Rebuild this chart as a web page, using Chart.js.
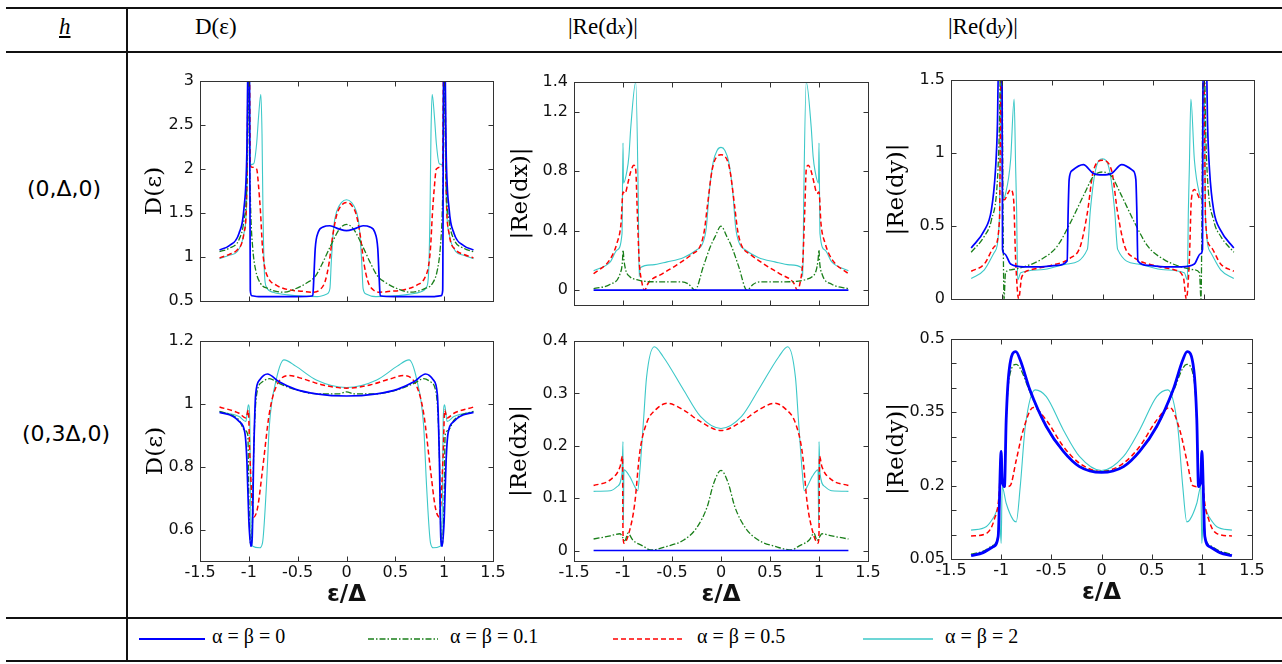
<!DOCTYPE html>
<html>
<head>
<meta charset="utf-8">
<script src="https://cdn.jsdelivr.net/npm/chart.js@4.4.1/dist/chart.umd.min.js"></script>
<style>
  body { margin: 0; background: #fff; }
  #page { position: relative; width: 1282px; height: 664px; overflow: hidden; background: #fff; }
  .hline { position: absolute; left: 6px; width: 1276px; height: 2px; background: #111; }
  .vline { position: absolute; left: 126px; top: 8px; width: 2px; height: 654px; background: #111; }
  .head { position: absolute; top: 14px; font-family: "Liberation Serif", serif; font-size: 23px; color: #000; }
  .row { position: absolute; font-family: "DejaVu Sans", sans-serif; font-size: 22px; color: #000; transform: translate(-50%, -50%); white-space: nowrap; }
  canvas { position: absolute; }
  .leg { position: absolute; top: 625px; font-family: "Liberation Serif", serif; font-size: 20px; color: #000; white-space: nowrap; }
  svg { position: absolute; top: 630px; }
</style>
</head>
<body>
<div id="page">
  <div class="hline" style="top:7px"></div>
  <div class="hline" style="top:51px"></div>
  <div class="hline" style="top:617px"></div>
  <div class="hline" style="top:660px"></div>
  <div class="vline"></div>

  <div class="head" style="left:59px"><i><u>h</u></i></div>
  <div class="head" style="left:195px">D(ε)</div>
  <div class="head" style="left:568px">|Re(d<i style="font-size:0.8em">x</i>)|</div>
  <div class="head" style="left:948px">|Re(d<i style="font-size:0.8em">y</i>)|</div>

  <div class="row" style="left:64px;top:188px">(0,Δ,0)</div>
  <div class="row" style="left:66px;top:433px">(0,3Δ,0)</div>

  <canvas id="c1"></canvas>
  <canvas id="c2"></canvas>
  <canvas id="c3"></canvas>
  <canvas id="c4"></canvas>
  <canvas id="c5"></canvas>
  <canvas id="c6"></canvas>

  <svg style="left:139px" width="66" height="18"><line x1="0" y1="9" x2="66" y2="9" stroke="#0000ff" stroke-width="2"/></svg>
  <div class="leg" style="left:212px">α = β = 0</div>
  <svg style="left:368px" width="70" height="18"><line x1="0" y1="9" x2="70" y2="9" stroke="#1a7f1a" stroke-width="1.5" stroke-dasharray="6 2 1.5 2"/></svg>
  <div class="leg" style="left:450px">α = β = 0.1</div>
  <svg style="left:613px" width="70" height="18"><line x1="0" y1="9" x2="70" y2="9" stroke="#ff0000" stroke-width="1.5" stroke-dasharray="5 3"/></svg>
  <div class="leg" style="left:697px">α = β = 0.5</div>
  <svg style="left:863px" width="70" height="18"><line x1="0" y1="9" x2="70" y2="9" stroke="#3cc8c8" stroke-width="1.5"/></svg>
  <div class="leg" style="left:945px">α = β = 2</div>
</div>

<script>
// legend names and line styles (blue, green, red, cyan)
const seriesNames = ['α = β = 0', 'α = β = 0.1', 'α = β = 0.5', 'α = β = 2'];
const colors = ['#0000ff', '#1a7f1a', '#ff0000', '#3cc8c8'];
const widths = [1.7, 1.3, 1.5, 1.1];
const dashes = [[], [6, 2, 1.5, 2], [5, 3], []];

const xTicks = [-1.5, -1, -0.5, 0, 0.5, 1, 1.5];

// ---- h = (0,Δ,0): D(ε)
const dosTopBlue = [[-1.3,1.08],[-1.2,1.13],[-1.1,1.27],[-1.05,1.55],[-1.02,2.2],[-1.005,3.5],[-0.995,3.5],[-0.985,0.62],[-0.97,0.56],[-0.9,0.55],[-0.5,0.55],[-0.345,0.56],[-0.335,0.75],[-0.32,1.1],[-0.29,1.28],[-0.24,1.34],[-0.17,1.355],[-0.08,1.32],[0,1.3],[0.08,1.32],[0.17,1.355],[0.24,1.34],[0.29,1.28],[0.32,1.1],[0.335,0.75],[0.345,0.56],[0.5,0.55],[0.9,0.55],[0.97,0.56],[0.985,0.62],[0.995,3.5],[1.005,3.5],[1.02,2.2],[1.05,1.55],[1.1,1.27],[1.2,1.13],[1.3,1.08]];
const dosTopGreen = [[-1.3,1.06],[-1.2,1.1],[-1.1,1.2],[-1.05,1.42],[-1.02,1.9],[-1.005,3.2],[-0.995,2.3],[-0.98,1.5],[-0.96,1.1],[-0.93,0.85],[-0.88,0.7],[-0.8,0.64],[-0.65,0.6],[-0.5,0.65],[-0.4,0.71],[-0.32,0.78],[-0.25,0.92],[-0.17,1.11],[-0.07,1.32],[0,1.37],[0.07,1.32],[0.17,1.11],[0.25,0.92],[0.32,0.78],[0.4,0.71],[0.5,0.65],[0.65,0.6],[0.8,0.64],[0.88,0.7],[0.93,0.85],[0.96,1.1],[0.98,1.5],[0.995,2.3],[1.005,3.2],[1.02,1.9],[1.05,1.42],[1.1,1.2],[1.2,1.1],[1.3,1.06]];
const dosTopRed = [[-1.3,0.99],[-1.2,1.03],[-1.12,1.08],[-1.05,1.27],[-1.02,1.8],[-1.005,3.3],[-0.995,3.3],[-0.985,2.05],[-0.97,2.02],[-0.92,2.0],[-0.9,1.8],[-0.88,1.5],[-0.86,1.1],[-0.84,0.9],[-0.8,0.76],[-0.72,0.68],[-0.6,0.63],[-0.45,0.61],[-0.34,0.6],[-0.27,0.63],[-0.22,0.72],[-0.18,0.92],[-0.14,1.25],[-0.1,1.48],[-0.05,1.59],[0,1.62],[0.05,1.59],[0.1,1.48],[0.14,1.25],[0.18,0.92],[0.22,0.72],[0.27,0.63],[0.34,0.6],[0.45,0.61],[0.6,0.63],[0.72,0.68],[0.8,0.76],[0.84,0.9],[0.86,1.1],[0.88,1.5],[0.9,1.8],[0.92,2.0],[0.97,2.02],[0.985,2.05],[0.995,3.3],[1.005,3.3],[1.02,1.8],[1.05,1.27],[1.12,1.08],[1.2,1.03],[1.3,0.99]];
const dosTopCyan = [[-1.3,0.98],[-1.2,1.02],[-1.12,1.06],[-1.05,1.27],[-1.02,1.72],[-1.005,3.3],[-0.995,3.3],[-0.985,2.05],[-0.95,2.06],[-0.92,2.29],[-0.9,2.6],[-0.877,2.85],[-0.865,2.4],[-0.855,1.5],[-0.84,0.81],[-0.82,0.66],[-0.75,0.6],[-0.6,0.57],[-0.45,0.555],[-0.3,0.55],[-0.2,0.58],[-0.17,0.64],[-0.155,0.96],[-0.13,1.35],[-0.1,1.52],[-0.05,1.62],[0,1.65],[0.05,1.62],[0.1,1.52],[0.13,1.35],[0.155,0.96],[0.17,0.64],[0.2,0.58],[0.3,0.55],[0.45,0.555],[0.6,0.57],[0.75,0.6],[0.82,0.66],[0.84,0.81],[0.855,1.5],[0.865,2.4],[0.877,2.85],[0.9,2.6],[0.92,2.29],[0.95,2.06],[0.985,2.05],[0.995,3.3],[1.005,3.3],[1.02,1.72],[1.05,1.27],[1.12,1.06],[1.2,1.02],[1.3,0.98]];

// ---- h = (0,Δ,0): |Re(dx)|
const dxTopBlue = [[-1.3,0],[1.3,0]];
const dxTopGreen = [[-1.3,0.01],[-1.13,0.04],[-1.03,0.11],[-1.005,0.2],[-1.0,0.27],[-0.99,0.2],[-0.97,0.13],[-0.93,0.09],[-0.86,0.07],[-0.79,0.06],[-0.62,0.056],[-0.4,0.056],[-0.33,0.04],[-0.265,0.0],[-0.18,0.16],[-0.11,0.29],[-0.06,0.36],[0,0.43],[0.06,0.36],[0.11,0.29],[0.18,0.16],[0.265,0.0],[0.33,0.04],[0.4,0.056],[0.62,0.056],[0.79,0.06],[0.86,0.07],[0.93,0.09],[0.97,0.13],[0.99,0.2],[1.0,0.27],[1.005,0.2],[1.03,0.11],[1.13,0.04],[1.3,0.01]];
const dxTopRed = [[-1.3,0.11],[-1.13,0.21],[-1.06,0.32],[-1.02,0.45],[-1.0,0.66],[-0.98,0.65],[-0.95,0.72],[-0.92,0.8],[-0.89,0.84],[-0.87,0.81],[-0.855,0.54],[-0.835,0.2],[-0.81,0.06],[-0.78,0.0],[-0.74,0.05],[-0.6,0.11],[-0.45,0.17],[-0.3,0.24],[-0.21,0.3],[-0.17,0.4],[-0.14,0.56],[-0.09,0.81],[-0.04,0.9],[0,0.91],[0.04,0.9],[0.09,0.81],[0.14,0.56],[0.17,0.4],[0.21,0.3],[0.3,0.24],[0.45,0.17],[0.6,0.11],[0.74,0.05],[0.78,0.0],[0.81,0.06],[0.835,0.2],[0.855,0.54],[0.87,0.81],[0.89,0.84],[0.92,0.8],[0.95,0.72],[0.98,0.65],[1.0,0.66],[1.02,0.45],[1.06,0.32],[1.13,0.21],[1.3,0.11]];
const dxTopCyan = [[-1.3,0.13],[-1.13,0.19],[-1.06,0.27],[-1.01,0.38],[-1.0,0.99],[-0.995,0.72],[-0.96,0.8],[-0.94,0.9],[-0.92,1.1],[-0.87,1.4],[-0.845,0.65],[-0.835,0.09],[-0.825,0.15],[-0.7,0.17],[-0.55,0.19],[-0.38,0.22],[-0.25,0.27],[-0.19,0.31],[-0.15,0.42],[-0.12,0.66],[-0.08,0.86],[-0.04,0.94],[0,0.96],[0.04,0.94],[0.08,0.86],[0.12,0.66],[0.15,0.42],[0.19,0.31],[0.25,0.27],[0.38,0.22],[0.55,0.19],[0.7,0.17],[0.825,0.15],[0.835,0.09],[0.845,0.65],[0.87,1.4],[0.92,1.1],[0.94,0.9],[0.96,0.8],[0.995,0.72],[1.0,0.99],[1.01,0.38],[1.06,0.27],[1.13,0.19],[1.3,0.13]];

// ---- h = (0,Δ,0): |Re(dy)|
const dyTopBlue = [[-1.3,0.35],[-1.17,0.47],[-1.1,0.61],[-1.06,0.88],[-1.04,1.2],[-1.03,1.6],[-0.995,1.6],[-0.99,0.34],[-0.97,0.31],[-0.91,0.24],[-0.78,0.22],[-0.61,0.22],[-0.45,0.23],[-0.35,0.26],[-0.34,0.6],[-0.33,0.82],[-0.3,0.88],[-0.19,0.92],[-0.09,0.86],[0,0.85],[0.09,0.86],[0.19,0.92],[0.3,0.88],[0.33,0.82],[0.34,0.6],[0.35,0.26],[0.45,0.23],[0.61,0.22],[0.78,0.22],[0.91,0.24],[0.97,0.31],[0.99,0.34],[0.995,1.6],[1.03,1.6],[1.04,1.2],[1.06,0.88],[1.1,0.61],[1.17,0.47],[1.3,0.35]];
const dyTopGreen = [[-1.3,0.32],[-1.17,0.43],[-1.1,0.54],[-1.04,0.82],[-1.02,1.2],[-1.01,1.6],[-0.995,1.6],[-0.985,0.6],[-0.975,0.0],[-0.96,0.18],[-0.91,0.2],[-0.78,0.22],[-0.61,0.27],[-0.45,0.36],[-0.32,0.52],[-0.18,0.72],[-0.09,0.84],[0,0.87],[0.09,0.84],[0.18,0.72],[0.32,0.52],[0.45,0.36],[0.61,0.27],[0.78,0.22],[0.91,0.2],[0.96,0.18],[0.975,0.0],[0.985,0.6],[0.995,1.6],[1.01,1.6],[1.02,1.2],[1.04,0.82],[1.1,0.54],[1.17,0.43],[1.3,0.32]];
const dyTopRed = [[-1.3,0.19],[-1.17,0.24],[-1.07,0.36],[-1.02,0.54],[-1.005,1.6],[-0.995,1.6],[-0.99,0.7],[-0.97,0.68],[-0.94,0.72],[-0.91,0.75],[-0.88,0.68],[-0.86,0.27],[-0.83,0.0],[-0.8,0.15],[-0.71,0.2],[-0.51,0.23],[-0.32,0.28],[-0.22,0.36],[-0.15,0.59],[-0.09,0.88],[0,0.95],[0.09,0.88],[0.15,0.59],[0.22,0.36],[0.32,0.28],[0.51,0.23],[0.71,0.2],[0.8,0.15],[0.83,0.0],[0.86,0.27],[0.88,0.68],[0.91,0.75],[0.94,0.72],[0.97,0.68],[0.99,0.7],[0.995,1.6],[1.005,1.6],[1.02,0.54],[1.07,0.36],[1.17,0.24],[1.3,0.19]];
const dyTopCyan = [[-1.3,0.14],[-1.17,0.2],[-1.07,0.32],[-1.02,0.56],[-1.005,1.6],[-0.995,1.6],[-0.99,0.68],[-0.96,0.72],[-0.91,0.95],[-0.875,1.37],[-0.86,0.9],[-0.85,0.6],[-0.84,0.13],[-0.81,0.18],[-0.61,0.2],[-0.35,0.24],[-0.15,0.34],[-0.12,0.61],[-0.07,0.88],[0,0.96],[0.07,0.88],[0.12,0.61],[0.15,0.34],[0.35,0.24],[0.61,0.2],[0.81,0.18],[0.84,0.13],[0.85,0.6],[0.86,0.9],[0.875,1.37],[0.91,0.95],[0.96,0.72],[0.99,0.68],[0.995,1.6],[1.005,1.6],[1.02,0.56],[1.07,0.32],[1.17,0.2],[1.3,0.14]];

// ---- h = (0,3Δ,0): D(ε)
const dosBotBlue = [[-1.3,0.973],[-1.16,0.96],[-1.1,0.944],[-1.04,0.907],[-1.02,0.82],[-1.0,0.63],[-0.98,0.547],[-0.966,0.57],[-0.95,0.84],[-0.93,1.03],[-0.89,1.076],[-0.81,1.095],[-0.69,1.07],[-0.52,1.046],[-0.31,1.032],[0,1.025],[0.31,1.032],[0.52,1.046],[0.69,1.07],[0.81,1.095],[0.89,1.076],[0.93,1.03],[0.95,0.84],[0.966,0.57],[0.98,0.547],[1.0,0.63],[1.02,0.82],[1.04,0.907],[1.1,0.944],[1.16,0.96],[1.3,0.973]];
const dosBotGreen = [[-1.3,0.976],[-1.16,0.962],[-1.1,0.948],[-1.04,0.915],[-1.01,0.9],[-1.0,0.7],[-0.98,0.55],[-0.965,0.6],[-0.95,0.85],[-0.92,1.03],[-0.86,1.07],[-0.79,1.08],[-0.69,1.065],[-0.52,1.045],[-0.3,1.032],[-0.08,1.032],[0,1.038],[0.08,1.032],[0.3,1.032],[0.52,1.045],[0.69,1.065],[0.79,1.08],[0.86,1.07],[0.92,1.03],[0.95,0.85],[0.965,0.6],[0.98,0.55],[1.0,0.7],[1.01,0.9],[1.04,0.915],[1.1,0.948],[1.16,0.962],[1.3,0.976]];
const dosBotRed = [[-1.3,0.99],[-1.1,0.97],[-1.03,0.955],[-1.005,0.98],[-0.99,0.84],[-0.95,0.64],[-0.91,0.67],[-0.86,0.79],[-0.79,0.97],[-0.72,1.055],[-0.585,1.09],[-0.45,1.08],[-0.24,1.06],[0,1.05],[0.24,1.06],[0.45,1.08],[0.585,1.09],[0.72,1.055],[0.79,0.97],[0.86,0.79],[0.91,0.67],[0.95,0.64],[0.99,0.84],[1.005,0.98],[1.03,0.955],[1.1,0.97],[1.3,0.99]];
const dosBotCyan = [[-1.3,0.975],[-1.1,0.96],[-1.03,0.944],[-1.005,0.997],[-0.99,0.95],[-0.98,0.63],[-0.96,0.547],[-0.89,0.542],[-0.86,0.558],[-0.82,0.738],[-0.79,0.93],[-0.72,1.076],[-0.64,1.14],[-0.52,1.12],[-0.31,1.076],[0,1.052],[0.31,1.076],[0.52,1.12],[0.64,1.14],[0.72,1.076],[0.79,0.93],[0.82,0.738],[0.86,0.558],[0.89,0.542],[0.96,0.547],[0.98,0.63],[0.99,0.95],[1.005,0.997],[1.03,0.944],[1.1,0.96],[1.3,0.975]];

// ---- h = (0,3Δ,0): |Re(dx)|
const dxBotBlue = [[-1.3,0],[1.3,0]];
const dxBotGreen = [[-1.3,0.022],[-1.13,0.028],[-1.03,0.032],[-1.0,0.024],[-0.98,0.019],[-0.95,0.033],[-0.9,0.02],[-0.79,0.008],[-0.72,0.001],[-0.55,0.008],[-0.38,0.02],[-0.25,0.043],[-0.14,0.084],[-0.075,0.128],[0,0.153],[0.075,0.128],[0.14,0.084],[0.25,0.043],[0.38,0.02],[0.55,0.008],[0.72,0.001],[0.79,0.008],[0.9,0.02],[0.95,0.033],[0.98,0.019],[1.0,0.024],[1.03,0.032],[1.13,0.028],[1.3,0.022]];
const dxBotRed = [[-1.3,0.124],[-1.13,0.135],[-1.03,0.16],[-1.005,0.18],[-1.0,0.033],[-0.99,0.014],[-0.93,0.04],[-0.88,0.09],[-0.83,0.186],[-0.76,0.243],[-0.66,0.27],[-0.55,0.281],[-0.38,0.268],[-0.21,0.246],[0,0.229],[0.21,0.246],[0.38,0.268],[0.55,0.281],[0.66,0.27],[0.76,0.243],[0.83,0.186],[0.88,0.09],[0.93,0.04],[0.99,0.014],[1.0,0.033],[1.005,0.18],[1.03,0.16],[1.13,0.135],[1.3,0.124]];
const dxBotCyan = [[-1.3,0.113],[-1.13,0.114],[-1.06,0.122],[-1.01,0.148],[-1.0,0.208],[-0.997,0.052],[-0.99,0.154],[-0.93,0.141],[-0.88,0.122],[-0.85,0.114],[-0.83,0.148],[-0.79,0.25],[-0.76,0.33],[-0.68,0.389],[-0.59,0.37],[-0.38,0.306],[-0.21,0.256],[0,0.233],[0.21,0.256],[0.38,0.306],[0.59,0.37],[0.68,0.389],[0.76,0.33],[0.79,0.25],[0.83,0.148],[0.85,0.114],[0.88,0.122],[0.93,0.141],[0.99,0.154],[0.997,0.052],[1.0,0.208],[1.01,0.148],[1.06,0.122],[1.13,0.114],[1.3,0.113]];

// ---- h = (0,3Δ,0): |Re(dy)|
const dyBotBlue = [[-1.3,0.057],[-1.18,0.063],[-1.08,0.075],[-1.03,0.096],[-1.0,0.27],[-0.99,0.21],[-0.967,0.198],[-0.95,0.334],[-0.92,0.437],[-0.854,0.474],[-0.81,0.457],[-0.714,0.396],[-0.55,0.321],[-0.38,0.27],[-0.22,0.239],[0,0.227],[0.22,0.239],[0.38,0.27],[0.55,0.321],[0.714,0.396],[0.81,0.457],[0.854,0.474],[0.92,0.437],[0.95,0.334],[0.967,0.198],[0.99,0.21],[1.0,0.27],[1.03,0.096],[1.08,0.075],[1.18,0.063],[1.3,0.057]];
const dyBotGreen = [[-1.3,0.06],[-1.18,0.066],[-1.08,0.078],[-1.03,0.099],[-1.0,0.27],[-0.99,0.21],[-0.967,0.2],[-0.95,0.33],[-0.92,0.42],[-0.85,0.448],[-0.81,0.44],[-0.714,0.392],[-0.55,0.32],[-0.38,0.27],[-0.22,0.24],[0,0.229],[0.22,0.24],[0.38,0.27],[0.55,0.32],[0.714,0.392],[0.81,0.44],[0.85,0.448],[0.92,0.42],[0.95,0.33],[0.967,0.2],[0.99,0.21],[1.0,0.27],[1.03,0.099],[1.08,0.078],[1.18,0.066],[1.3,0.06]];
const dyBotRed = [[-1.3,0.097],[-1.15,0.102],[-1.07,0.13],[-1.02,0.184],[-1.0,0.266],[-0.99,0.218],[-0.95,0.198],[-0.91,0.2],[-0.85,0.252],[-0.78,0.314],[-0.68,0.36],[-0.55,0.334],[-0.38,0.28],[-0.22,0.246],[0,0.229],[0.22,0.246],[0.38,0.28],[0.55,0.334],[0.68,0.36],[0.78,0.314],[0.85,0.252],[0.91,0.2],[0.95,0.198],[0.99,0.218],[1.0,0.266],[1.02,0.184],[1.07,0.13],[1.15,0.102],[1.3,0.097]];
const dyBotCyan = [[-1.3,0.109],[-1.15,0.116],[-1.07,0.137],[-1.02,0.157],[-1.0,0.082],[-0.99,0.198],[-0.95,0.164],[-0.88,0.13],[-0.85,0.126],[-0.81,0.198],[-0.76,0.32],[-0.66,0.396],[-0.55,0.382],[-0.38,0.314],[-0.22,0.26],[0,0.231],[0.22,0.26],[0.38,0.314],[0.55,0.382],[0.66,0.396],[0.76,0.32],[0.81,0.198],[0.85,0.126],[0.88,0.13],[0.95,0.164],[0.99,0.198],[1.0,0.082],[1.02,0.157],[1.07,0.137],[1.15,0.116],[1.3,0.109]];

// y ticks and labels for each panel
const yTicks1 = [0.5, 1, 1.5, 2, 2.5, 3];
const yTicks2 = [0, 0.4, 0.8, 1.2, 1.4];
const yTicks3 = [0, 0.5, 1, 1.5];
const yTicks4 = [0.6, 0.8, 1, 1.2];
const yTicks5 = [0, 0.1, 0.2, 0.3, 0.4];
const yTicks6 = [0.05, 0.1, 0.15, 0.2, 0.25, 0.3, 0.35, 0.4, 0.45, 0.5];
const yLabels6 = ['0.05', '0.2', '0.35', '0.5'];

// frame box + inward tick marks, matlab style
const boxTicks = {
  id: 'boxTicks',
  afterDatasetsDraw(chart) {
    const {ctx, chartArea: a, scales: {x, y}} = chart;
    const l = Math.round(a.left) + 0.5, r = Math.round(a.right) + 0.5;
    const t = Math.round(a.top) + 0.5, b = Math.round(a.bottom) + 0.5;
    ctx.save();
    ctx.strokeStyle = '#333';
    ctx.lineWidth = 1;
    ctx.beginPath();
    x.ticks.forEach(tk => {
      const px = Math.round(x.getPixelForValue(tk.value)) + 0.5;
      ctx.moveTo(px, b); ctx.lineTo(px, b - 5);
      ctx.moveTo(px, t); ctx.lineTo(px, t + 5);
    });
    y.ticks.forEach(tk => {
      const py = Math.round(y.getPixelForValue(tk.value)) + 0.5;
      ctx.moveTo(l, py); ctx.lineTo(l + 5, py);
      ctx.moveTo(r, py); ctx.lineTo(r - 5, py);
    });
    ctx.stroke();
    ctx.strokeRect(l, t, r - l, b - t);
    ctx.restore();
  }
};

function makePanel(id, box, series, yMin, yMax, yTicks, yTitle, bottomRow, opts = {}) {
  const canvas = document.getElementById(id);
  const left = Math.round(box.titleX - 13.8);
  const padTop = 10, padRight = 16;
  const xH = bottomRow ? 48 : 4;
  const W = box.R - left + padRight;
  const H = padTop + (box.B - box.T) + xH;
  canvas.width = W; canvas.height = H;
  canvas.style.left = left + 'px';
  canvas.style.top = (box.T - padTop) + 'px';
  canvas.style.width = W + 'px';
  canvas.style.height = H + 'px';

  const datasets = series.map((pts, i) => ({
    label: seriesNames[i],
    data: pts.map(p => ({x: p[0], y: p[1]})),
    borderColor: colors[i],
    borderWidth: (opts.widths || widths)[i],
    borderDash: dashes[i],
    pointRadius: 0,
    cubicInterpolationMode: 'monotone',
    fill: false
  }));

  return new Chart(canvas, {
    type: 'line',
    data: {datasets},
    options: {
      responsive: false,
      animation: false,
      events: [],
      layout: {padding: {top: padTop, right: padRight, left: 0, bottom: 0}},
      plugins: {legend: {display: false}, tooltip: {enabled: false}},
      scales: {
        x: {
          type: 'linear', min: -1.5, max: 1.5,
          afterBuildTicks: s => { s.ticks = xTicks.map(v => ({value: v})); },
          afterFit: s => { s.height = xH; s.paddingLeft = 0; s.paddingRight = 0; s.paddingTop = 0; s.paddingBottom = 0; },
          grid: {display: false, drawTicks: false},
          border: {display: false},
          ticks: {
            display: bottomRow, padding: 2, color: '#111', maxRotation: 0, autoSkip: false,
            font: {family: 'DejaVu Sans', size: 16},
            callback: v => String(v)
          },
          title: {
            display: bottomRow, text: 'ε/Δ', color: '#111',
            font: {family: 'DejaVu Sans', size: 23, weight: 'bold'},
            padding: {top: 0, bottom: 0}
          }
        },
        y: {
          type: 'linear', min: yMin, max: yMax,
          afterBuildTicks: s => { s.ticks = yTicks.map(v => ({value: v})); },
          afterFit: s => { s.width = box.L - left; s.paddingTop = 0; s.paddingBottom = 0; },
          grid: {display: false, drawTicks: false},
          border: {display: false},
          ticks: {
            padding: 6, color: '#111', autoSkip: false,
            font: {family: 'DejaVu Sans', size: 16},
            callback: opts.yLabels
              ? (v => opts.yLabels.includes(String(v)) ? String(v) : '')
              : (v => String(v))
          },
          title: {
            display: true, text: yTitle, color: '#000',
            font: {family: 'DejaVu Serif', size: 23},
            padding: {top: 0, bottom: 0}
          }
        }
      }
    },
    plugins: [boxTicks]
  });
}

makePanel('c1', {L: 200, R: 493, T: 81, B: 301, titleX: 155},
  [dosTopBlue, dosTopGreen, dosTopRed, dosTopCyan], 0.5, 3, yTicks1, 'D(ε)', false);
makePanel('c2', {L: 574, R: 868, T: 82, B: 305, titleX: 521},
  [dxTopBlue, dxTopGreen, dxTopRed, dxTopCyan], -0.1, 1.4, yTicks2, '|Re(dx)|', false);
makePanel('c3', {L: 951, R: 1254, T: 80, B: 299, titleX: 897},
  [dyTopBlue, dyTopGreen, dyTopRed, dyTopCyan], 0, 1.5, yTicks3, '|Re(dy)|', false);
makePanel('c4', {L: 200, R: 493, T: 341, B: 561, titleX: 156},
  [dosBotBlue, dosBotGreen, dosBotRed, dosBotCyan], 0.5, 1.2, yTicks4, 'D(ε)', true);
makePanel('c5', {L: 574, R: 868, T: 341, B: 561, titleX: 520},
  [dxBotBlue, dxBotGreen, dxBotRed, dxBotCyan], -0.02, 0.4, yTicks5, '|Re(dx)|', true);
makePanel('c6', {L: 951, R: 1252, T: 339, B: 559, titleX: 897},
  [dyBotBlue, dyBotGreen, dyBotRed, dyBotCyan], 0.05, 0.5, yTicks6, '|Re(dy)|', true,
  {yLabels: yLabels6, widths: [2.8, 1.3, 1.5, 1.1]});
</script>
</body>
</html>
